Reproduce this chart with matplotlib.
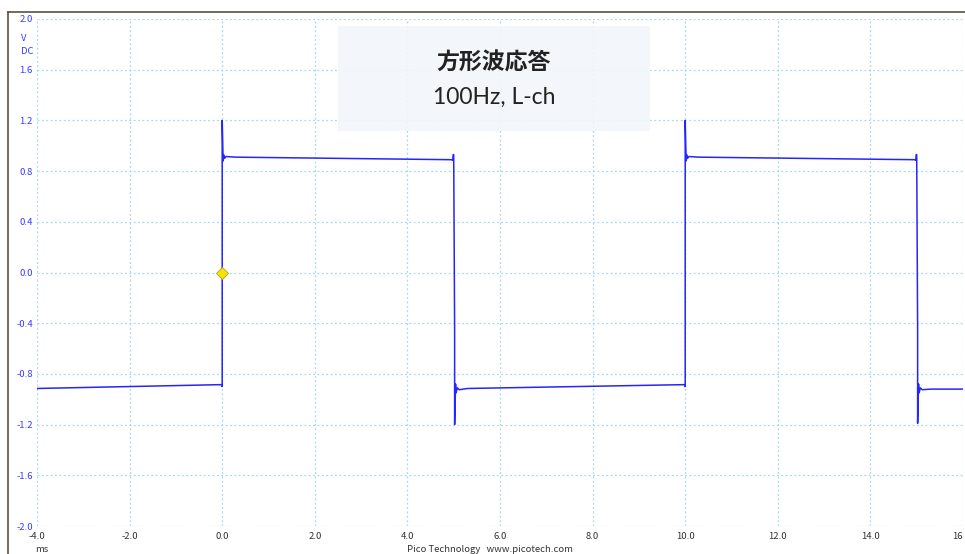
import numpy as np
import matplotlib.pyplot as plt
from matplotlib.lines import Line2D
from matplotlib.patches import Rectangle

plt.rcParams['font.family'] = ['Noto Sans CJK JP', 'DejaVu Sans']

# waveform breakpoints (time in ms, voltage in V)
t_ms = [-4.0, -0.05, -0.01, 0.0, 0.0, 0.02, 0.03, 0.05, 0.08, 0.3, 4.95, 4.98,
        4.99, 5.0, 5.02, 5.02, 5.04, 5.05, 5.08, 5.12, 5.3, 9.95, 9.99,
        10.0, 10.0, 10.02, 10.03, 10.05, 10.08, 10.3, 14.95, 14.98, 14.99,
        15.0, 15.02, 15.02, 15.04, 15.05, 15.08, 15.12, 15.3, 16.0]
v_volt = [-0.915, -0.885, -0.885, -0.9, 1.2, 0.88, 0.93, 0.9, 0.915, 0.91, 0.89, 0.885,
          0.93, 0.93, -0.45, -1.2, -0.88, -0.95, -0.91, -0.925, -0.915, -0.885, -0.885,
          -0.9, 1.2, 0.88, 0.93, 0.9, 0.915, 0.91, 0.89, 0.885, 0.93,
          0.93, -0.45, -1.19, -0.88, -0.95, -0.91, -0.925, -0.92, -0.92]

x_ticks = [-4.0, -2.0, 0.0, 2.0, 4.0, 6.0, 8.0, 10.0, 12.0, 14.0, 16.0]
x_labels = ['-4.0', '-2.0', '0.0', '2.0', '4.0', '6.0', '8.0', '10.0', '12.0', '14.0', '16']
y_ticks = [-2.0, -1.6, -1.2, -0.8, -0.4, 0.0, 0.4, 0.8, 1.2, 1.6, 2.0]
y_labels = ['-2.0', '-1.6', '-1.2', '-0.8', '-0.4', '0.0', '0.4', '0.8', '1.2', '1.6', '2.0']

W, H = 965, 554
fig = plt.figure(figsize=(W / 100, H / 100), dpi=100)
ax = fig.add_axes([37 / W, (H - 526) / H, (963 - 37) / W, (526 - 19) / H])

ax.plot(t_ms, v_volt, color='#2525ff', lw=1.1, zorder=3)
ax.plot([0.0], [0.0], marker='D', ms=6, mfc='#f5e600', mec='#b0a020', mew=0.6, zorder=4)

ax.set_xlim(-4, 16)
ax.set_ylim(-2, 2)
ax.set_xticks(x_ticks)
ax.set_xticklabels(x_labels)
ax.set_yticks(y_ticks)
ax.set_yticklabels(y_labels)
ax.tick_params(axis='x', length=0, labelsize=6.8, labelcolor='#333333', pad=4)
ax.tick_params(axis='y', length=0, labelsize=6.8, labelcolor='#3a3aff', pad=3)
ax.get_xticklabels()[-1].set_horizontalalignment('right')
ax.grid(True, color='#a9d9e8', ls=(0, (1.5, 2)), lw=0.9)
for s in ax.spines.values():
    s.set_visible(False)

# units under the top y label
ax.text(-0.012, 0.962, 'V', transform=ax.transAxes, ha='right', va='center',
        fontsize=6.8, color='#3a3aff')
ax.text(-0.004, 0.935, 'DC', transform=ax.transAxes, ha='right', va='center',
        fontsize=6.8, color='#3a3aff')

# title box
fig.patches.append(Rectangle((338 / W, (H - 131) / H), (650 - 338) / W, (131 - 26) / H,
                             transform=fig.transFigure, facecolor='#f2f6fa',
                             edgecolor='none', alpha=0.9, zorder=5))
fig.text(494 / W, (H - 63) / H, '方形波応答', ha='center', va='center',
         fontsize=16.5, fontweight='bold', color='#222222', zorder=6)
fig.text(494 / W, (H - 97) / H, '100Hz, L-ch', ha='center', va='center',
         fontsize=16.5, fontweight='normal', family=['Lato', 'DejaVu Sans'],
         color='#222222', zorder=6)

fig.text(42 / W, (H - 549) / H, 'ms', ha='center', va='center', fontsize=6.8, color='#333333')
fig.text(490 / W, (H - 549) / H, 'Pico Technology   www.picotech.com', ha='center',
         va='center', fontsize=6.8, color='#333333')

# outer frame
fig.lines.append(Line2D([8 / W, 8 / W], [0, (H - 12) / H], transform=fig.transFigure,
                        color='#5a5040', lw=1.2))
fig.lines.append(Line2D([8 / W, 1], [(H - 12) / H, (H - 12) / H], transform=fig.transFigure,
                        color='#5a5040', lw=1.2))

fig.savefig('out.png', dpi=100)
